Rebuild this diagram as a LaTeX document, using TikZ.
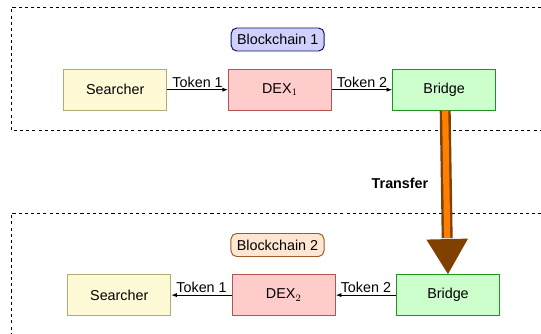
\documentclass[tikz,border=0pt]{standalone}
\usepackage{fontspec}
\setmainfont{Liberation Sans}
\usetikzlibrary{arrows.meta,calc}

\definecolor{labfill}{RGB}{208,208,252}
\definecolor{labdraw}{RGB}{10,20,110}
\definecolor{lab2fill}{RGB}{255,230,208}
\definecolor{lab2draw}{RGB}{160,90,40}
\definecolor{srchfill}{RGB}{255,250,214}
\definecolor{srchdraw}{RGB}{180,170,120}
\definecolor{dexfill}{RGB}{255,204,204}
\definecolor{dexdraw}{RGB}{184,84,80}
\definecolor{brgfill}{RGB}{204,255,204}
\definecolor{brgdraw}{RGB}{30,150,30}
\definecolor{xferbrown}{RGB}{128,64,0}
\definecolor{xferorange}{RGB}{255,128,0}

\tikzset{
  box/.style={draw, line width=0.7pt, minimum width=2.575cm, minimum height=1.025cm,
    font=\fontsize{10.2pt}{12pt}\selectfont},
  chain/.style={draw, line width=0.7pt, rounded corners=4pt, minimum width=2.325cm,
    minimum height=0.575cm, font=\fontsize{10.2pt}{12pt}\selectfont},
  tok/.style={-{Latex[length=4pt,width=3pt]}, line width=0.6pt},
  toklabel/.style={above, inner sep=1.5pt, font=\fontsize{10.2pt}{12pt}\selectfont},
  region/.style={dash pattern=on 2.2pt off 2.2pt, line width=0.6pt}
}

\begin{document}
\begin{tikzpicture}[x=0.025cm,y=-0.025cm]
\clip (0,0) rectangle (541,334);
\useasboundingbox (0,0) rectangle (541,334);

% Dashed regions for the two chains
\draw[region] (560,7.5) -- (11.2,7.5) -- (11.2,130.5) -- (560,130.5);
\draw[region] (560,213.3) -- (11.2,213.3) -- (11.2,350);

% Blockchain 1
\node[chain, fill=labfill, draw=labdraw] (chain1) at (277.7,39.5) {Blockchain 1};
\node[box, fill=srchfill, draw=srchdraw] (search1) at (115.2,89.7) {Searcher};
\node[box, fill=dexfill, draw=dexdraw] (dex1) at (280,89.7) {DEX$_1$};
\node[box, fill=brgfill, draw=brgdraw] (bridge1) at (444.2,89.7) {Bridge};

\draw[tok] (search1) -- node[toklabel] {Token 1} (dex1);
\draw[tok] (dex1) -- node[toklabel] {Token 2} (bridge1);

% Blockchain 2
\node[chain, fill=lab2fill, draw=lab2draw] (chain2) at (277.5,245) {Blockchain 2};
\node[box, fill=srchfill, draw=srchdraw] (search2) at (119.3,295.1) {Searcher};
\node[box, fill=dexfill, draw=dexdraw] (dex2) at (283.8,295.1) {DEX$_2$};
\node[box, fill=brgfill, draw=brgdraw] (bridge2) at (448,295.1) {Bridge};

\draw[tok] (dex2) -- node[toklabel] {Token 1} (search2);
\draw[tok] (bridge2) -- node[toklabel] {Token 2} (dex2);

% Transfer arrow between the bridges
\coordinate (tip) at (bridge2.north);
\coordinate (hbase) at ($(tip)!0.875cm!(bridge1.south)$);
\draw[xferbrown, line width=7.8pt] ($(bridge1.south)+(1,0)$) -- ($(hbase)+(0,-1)$);
\draw[xferorange, line width=4.4pt] ($(bridge1.south)+(1,0)$) -- ($(hbase)+(0,-1)$);
\fill[xferbrown] (tip) -- ($(hbase)!0.52cm!90:(tip)$) -- ($(hbase)!0.52cm!-90:(tip)$) -- cycle;
\node[font=\fontsize{10.2pt}{12pt}\selectfont\bfseries] (xfer) at (400,183.3) {Transfer};

\end{tikzpicture}
\end{document}
